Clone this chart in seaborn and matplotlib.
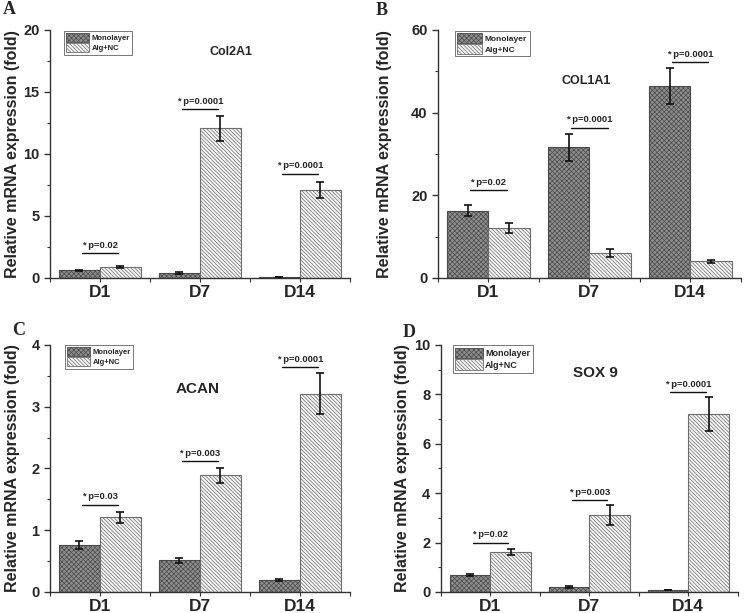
import numpy as np
import pandas as pd
import matplotlib
matplotlib.use("Agg")
import matplotlib.pyplot as plt
from matplotlib.patches import Patch
from matplotlib.ticker import MultipleLocator, FixedLocator
import seaborn as sns

days = ["D1", "D7", "D14"]
groups = ["Monolayer", "Alg+NC"]

# Col2A1
col2a1_mono = [0.62, 0.40, 0.08]
col2a1_mono_err = [0.05, 0.05, 0.03]
col2a1_alg = [0.89, 12.08, 7.11]
col2a1_alg_err = [0.06, 1.02, 0.67]
col2a1_p = ["0.02", "0.0001", "0.0001"]
col2a1_sig_y = [2.0, 13.6, 8.4]

# COL1A1
col1a1_mono = [16.3, 31.6, 46.5]
col1a1_mono_err = [1.35, 3.3, 4.3]
col1a1_alg = [12.1, 6.0, 4.0]
col1a1_alg_err = [1.1, 0.9, 0.45]
col1a1_p = ["0.02", "0.0001", "0.0001"]
col1a1_sig_y = [21.2, 36.4, 52.2]

# ACAN
acan_mono = [0.76, 0.51, 0.20]
acan_mono_err = [0.06, 0.035, 0.015]
acan_alg = [1.21, 1.89, 3.21]
acan_alg_err = [0.09, 0.12, 0.33]
acan_p = ["0.03", "0.003", "0.0001"]
acan_sig_y = [1.41, 2.12, 3.64]

# SOX 9
sox9_mono = [0.68, 0.20, 0.07]
sox9_mono_err = [0.05, 0.03, 0.01]
sox9_alg = [1.62, 3.12, 7.2]
sox9_alg_err = [0.12, 0.39, 0.68]
sox9_p = ["0.02", "0.003", "0.0001"]
sox9_sig_y = [2.0, 3.72, 8.08]

sns.set_style("ticks")
plt.rcParams["font.family"] = ["Liberation Sans", "DejaVu Sans"]
plt.rcParams["font.weight"] = "bold"
plt.rcParams["hatch.linewidth"] = 0.5

mono_face, mono_edge, mono_hatch = "#8e8e8e", "#4a4a4a", "xxxxxxx"
alg_face, alg_edge, alg_hatch = "#f6f6f6", "#6e6e6e", "\\" * 9


def panel(ax, mono, mono_err, alg, alg_err, pvals, sig_y, ymax, major, title,
          title_xy, title_size, leg_xy, leg_size, ylab_x):
    df = pd.DataFrame({
        "day": days * 2,
        "group": [groups[0]] * 3 + [groups[1]] * 3,
        "value": mono + alg,
    })
    sns.barplot(data=df, x="day", y="value", hue="group", order=days,
                hue_order=groups, width=0.82, errorbar=None, legend=False,
                palette=[mono_face, alg_face], saturation=1, ax=ax)
    bars = sorted(ax.patches, key=lambda p: p.get_x())
    errs = []
    for k in range(3):
        errs += [mono_err[k], alg_err[k]]
    xs, hs = [], []
    for j, p in enumerate(bars):
        if j % 2 == 0:
            p.set_facecolor(mono_face)
            p.set_edgecolor(mono_edge)
            p.set_hatch(mono_hatch)
        else:
            p.set_facecolor(alg_face)
            p.set_edgecolor(alg_edge)
            p.set_hatch(alg_hatch)
        p.set_linewidth(0.8)
        xs.append(p.get_x() + p.get_width() / 2)
        hs.append(p.get_height())
    ax.errorbar(xs, hs, yerr=errs, fmt="none", ecolor="#111111",
                elinewidth=1.2, capsize=3, capthick=1.2, zorder=5)

    for i in range(3):
        ax.plot([i - 0.18, i + 0.18], [sig_y[i], sig_y[i]], color="#111111",
                lw=1.0)
        ax.annotate("* p=" + pvals[i], xy=(i, sig_y[i]), xytext=(0, 2.5),
                    textcoords="offset points", ha="center", va="bottom",
                    fontsize=6.8, fontweight="bold")

    ax.set_ylim(0, ymax)
    ax.set_xlim(-0.5, 2.5)
    ax.yaxis.set_major_locator(MultipleLocator(major))
    ax.yaxis.set_minor_locator(MultipleLocator(major / 2))
    ax.xaxis.set_minor_locator(FixedLocator([-0.5, 0.5, 1.5, 2.5]))
    ax.tick_params(axis="y", which="major", length=4, width=1,
                   labelsize=10.5, direction="out", color="#333333")
    ax.tick_params(axis="y", which="minor", length=2.5, width=0.8,
                   direction="out", color="#333333")
    ax.tick_params(axis="x", which="both", length=3, width=0.8,
                   labelsize=12.5, direction="out", color="#333333", pad=2)
    for lab in ax.get_xticklabels() + ax.get_yticklabels():
        lab.set_fontweight("bold")
    sns.despine(ax=ax)
    for s in ["left", "bottom"]:
        ax.spines[s].set_color("#333333")
        ax.spines[s].set_linewidth(1.0)
    ax.set_xlabel("")
    ax.set_ylabel("Relative mRNA expression (fold)", fontsize=11.5,
                  fontweight="bold")
    ax.yaxis.set_label_coords(ylab_x, 0.5)
    ax.text(title_xy[0], title_xy[1], title, transform=ax.transAxes,
            ha="center", va="center", fontsize=title_size, fontweight="bold")

    handles = [
        Patch(facecolor=mono_face, edgecolor=mono_edge, hatch=mono_hatch,
              linewidth=0.6, label=groups[0]),
        Patch(facecolor=alg_face, edgecolor=alg_edge, hatch=alg_hatch,
              linewidth=0.6, label=groups[1]),
    ]
    leg = ax.legend(handles=handles, loc="upper left", bbox_to_anchor=leg_xy,
                    fontsize=leg_size, frameon=True, fancybox=False,
                    edgecolor="#777777", framealpha=1, handlelength=3.0,
                    handleheight=1.4, handletextpad=0.3, labelspacing=0.15,
                    borderpad=0.3, borderaxespad=0)
    leg.get_frame().set_linewidth(0.7)
    for t in leg.get_texts():
        t.set_fontweight("bold")


fig = plt.figure(figsize=(7.46, 6.13), dpi=100)
axA = fig.add_axes([0.067, 0.5465, 0.402, 0.4046])
axB = fig.add_axes([0.587, 0.5465, 0.406, 0.4046])
axC = fig.add_axes([0.067, 0.0343, 0.402, 0.403])
axD = fig.add_axes([0.591, 0.0343, 0.398, 0.403])

panel(axA, col2a1_mono, col2a1_mono_err, col2a1_alg, col2a1_alg_err,
      col2a1_p, col2a1_sig_y, 20, 5, "Col2A1", (0.605, 0.911), 9,
      (0.047, 0.996), 5.5, -0.1)
panel(axB, col1a1_mono, col1a1_mono_err, col1a1_alg, col1a1_alg_err,
      col1a1_p, col1a1_sig_y, 60, 20, "COL1A1", (0.49, 0.794), 9,
      (0.056, 0.996), 6, -0.152)
panel(axC, acan_mono, acan_mono_err, acan_alg, acan_alg_err,
      acan_p, acan_sig_y, 4, 1, "ACAN", (0.493, 0.822), 11,
      (0.05, 1.0), 5.5, -0.1)
panel(axD, sox9_mono, sox9_mono_err, sox9_alg, sox9_alg_err,
      sox9_p, sox9_sig_y, 10, 2, "SOX 9", (0.52, 0.887), 11,
      (0.04, 1.0), 6.5, -0.104)

for letter, x, y in [("A", 0.004, 0.999), ("B", 0.503, 0.997),
                     ("C", 0.016, 0.475), ("D", 0.540, 0.471)]:
    fig.text(x, y, letter, ha="left", va="top", fontsize=13,
             fontweight="bold", family=["Liberation Serif", "DejaVu Serif"])

fig.savefig("out.png", dpi=100)
